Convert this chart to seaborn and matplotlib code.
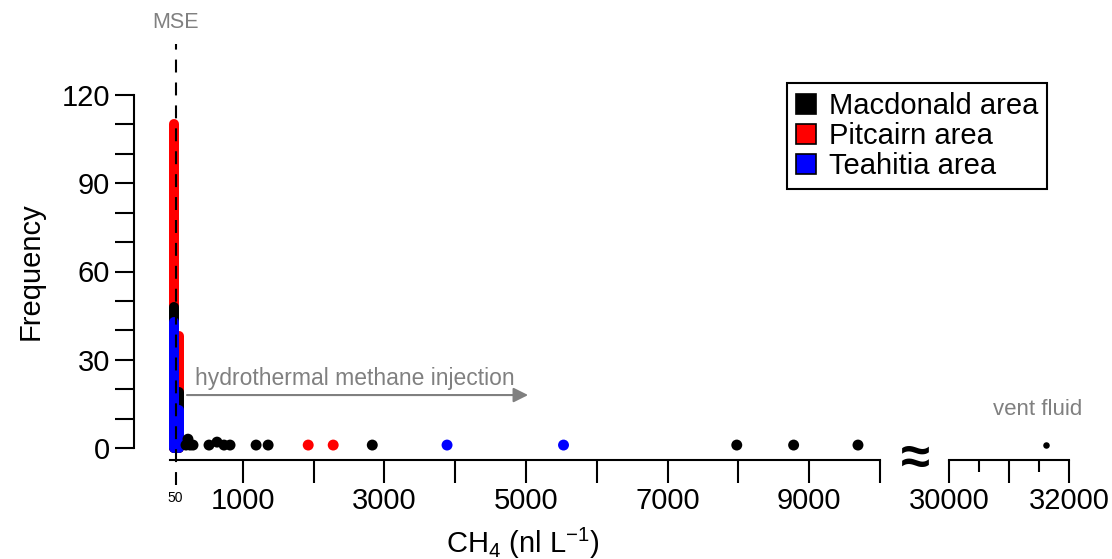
import matplotlib
matplotlib.use("Agg")
import matplotlib.pyplot as plt
import seaborn as sns
import pandas as pd
from matplotlib.patches import Patch

# ---------------- data ----------------
areas = ["Macdonald area", "Pitcairn area", "Teahitia area"]
colors = ["#000000", "#ff0000", "#0000ff"]

# histogram bins near background (bin centres, nl/L) and frequencies
bin_centers = [28, 99]
freq_macdonald = [48, 19]
freq_pitcairn = [110, 38]
freq_teahitia = [43, 13]

# isolated high-CH4 samples (CH4 value, frequency)
mac_x = [198, 226, 255, 297, 523, 636, 735, 820, 1188, 1358, 2829, 7977, 8780, 9689]
mac_y = [1, 3, 1, 1, 1, 2, 1, 1, 1, 1, 1, 1, 1, 1]
pit_x = [1924, 2277]
pit_y = [1, 1]
tea_x = [3885, 5530]
tea_y = [1, 1]

vent_x = [31612]
vent_y = [1]

mse_value = 50
x_major = [1000, 2000, 3000, 4000, 5000, 6000, 7000, 8000, 9000, 10000]
x_labels = ["1000", "", "3000", "", "5000", "", "7000", "", "9000", ""]
y_major = [0, 30, 60, 90, 120]
y_minor = [10, 20, 40, 50, 70, 80, 100, 110]
x2_major = [30000, 31000, 32000]
x2_labels = ["30000", "", "32000"]
x2_minor = [30500, 31500]

# ---------------- style ----------------
sns.set_theme(style="white")
plt.rcParams["font.family"] = ["Liberation Sans", "DejaVu Sans"]
plt.rcParams["mathtext.fontset"] = "custom"
plt.rcParams["mathtext.rm"] = "Liberation Sans"
plt.rcParams["mathtext.it"] = "Liberation Sans:italic"
plt.rcParams["axes.linewidth"] = 1.5
plt.rcParams["text.color"] = "black"

W, H = 1112, 559
fig = plt.figure(figsize=(W / 100, H / 100), dpi=100)


def px_axes(l, r, b_px, t_px):
    return fig.add_axes([l / W, 1 - b_px / H, (r - l) / W, (b_px - t_px) / H])


ax = px_axes(170, 880, 448, 95)
ax2 = px_axes(949, 1069, 448, 95)

FS = 21
GRAY = "#808080"

# ---- histogram bars (thick sticks with rounded caps) ----
freqs = [freq_macdonald, freq_pitcairn, freq_teahitia]
draw_order = [1, 0, 2]  # pitcairn behind, macdonald, teahitia front
for idx in draw_order:
    f = freqs[idx]
    for j in [1, 0]:
        lc = ax.vlines(bin_centers[j], 0, f[j], colors=colors[idx], linewidth=7.2,
                       clip_on=False, zorder=3)
        lc.set_capstyle("round")

# ---- scatter points ----
df = pd.DataFrame({
    "CH4": mac_x + pit_x + tea_x,
    "Frequency": mac_y + pit_y + tea_y,
    "Area": [areas[0]] * len(mac_x) + [areas[1]] * len(pit_x) + [areas[2]] * len(tea_x),
})
sns.scatterplot(data=df, x="CH4", y="Frequency", hue="Area", hue_order=areas,
                palette=colors, s=62, linewidth=0, ax=ax, legend=False,
                clip_on=False, zorder=4)
sns.scatterplot(x=vent_x, y=vent_y, color="black", s=22, linewidth=0, ax=ax2,
                legend=False, clip_on=False, zorder=4)

# ---- MSE line ----
ax.plot([mse_value, mse_value], [-12.5, 137.5], color="black", lw=1.5,
        ls=(0, (6.2, 4.8)), clip_on=False, zorder=5)
ax.text(mse_value, 144.5, "MSE", color=GRAY, fontsize=15.5, ha="center", va="center",
        clip_on=False)

# ---- injection arrow ----
ax.annotate("", xy=(5030, 18), xytext=(212, 18),
            arrowprops=dict(arrowstyle="-|>", color=GRAY, lw=1.5, mutation_scale=22,
                            shrinkA=0, shrinkB=0))
ax.text(330, 23.5, "hydrothermal methane injection", color=GRAY, fontsize=16.5,
        ha="left", va="center")

ax2.text(31470, 13, "vent fluid", color=GRAY, fontsize=16, ha="center", va="center",
         clip_on=False)

# ---- axes: main ----
ax.set_xlim(-28, 10000)
ax.set_ylim(0, 120)
for s in ["top", "right"]:
    ax.spines[s].set_visible(False)
ax.spines["left"].set_position(("outward", 26))
ax.spines["bottom"].set_position(("outward", 8.6))
for s in ["left", "bottom"]:
    ax.spines[s].set_color("black")
    ax.spines[s].set_linewidth(1.5)
ax.set_xticks([mse_value] + x_major)
ax.set_xticklabels(["50"] + x_labels)
ax.set_yticks(y_major)
ax.set_yticks(y_minor, minor=True)
ax.tick_params(axis="x", which="major", direction="out", length=16.5, width=1.5,
               colors="black", labelsize=FS, pad=3, bottom=True)
ax.tick_params(axis="y", which="major", direction="out", length=14, width=1.5,
               colors="black", labelsize=FS, pad=3, left=True)
ax.tick_params(axis="y", which="minor", direction="out", length=14, width=1.5,
               colors="black", left=True)
t0 = ax.xaxis.get_major_ticks()[0]
t0.tick1line.set_visible(False)
t0.label1.set_fontsize(10)
t0.set_pad(6)
ax.set_ylabel("Frequency", fontsize=FS, color="black", labelpad=12)
ax.set_xlabel(r"CH$_\mathregular{4}$ (nl L$^\mathregular{-1}$)", fontsize=FS,
              color="black", labelpad=0)
ax.xaxis.set_label_coords(0.497, -0.22)

# ---- axes: broken part ----
ax2.set_xlim(30000, 32000)
ax2.set_ylim(0, 120)
for s in ["top", "right", "left"]:
    ax2.spines[s].set_visible(False)
ax2.spines["bottom"].set_position(("outward", 8.6))
ax2.spines["bottom"].set_color("black")
ax2.spines["bottom"].set_linewidth(1.5)
ax2.set_yticks([])
ax2.set_xticks(x2_major)
ax2.set_xticklabels(x2_labels)
ax2.set_xticks(x2_minor, minor=True)
ax2.tick_params(axis="x", which="major", direction="out", length=16.5, width=1.5,
                colors="black", labelsize=FS, pad=3, bottom=True)
ax2.tick_params(axis="x", which="minor", direction="out", length=8.6, width=1.5,
                colors="black", bottom=True)
ax2.set_xlabel("")
ax2.set_ylabel("")
ax2.patch.set_alpha(0)

fig.text(915 / W, 1 - 460 / H, "≈", fontsize=38, fontweight="bold", ha="center",
         va="center", color="black")

# ---- legend ----
handles = [Patch(facecolor=c, edgecolor="black", linewidth=1.2) for c in colors]
leg = ax.legend(handles, areas, loc="upper right",
                bbox_to_anchor=(1047 / W, 1 - 83 / H), bbox_transform=fig.transFigure,
                fontsize=FS, frameon=True, fancybox=False, framealpha=1,
                edgecolor="black", handlelength=0.68, handleheight=0.68,
                handletextpad=0.45, labelspacing=0.07, borderpad=0.3,
                borderaxespad=0)
leg.get_frame().set_linewidth(1.5)
for t in leg.get_texts():
    t.set_color("black")

fig.savefig("out.png", dpi=100)
